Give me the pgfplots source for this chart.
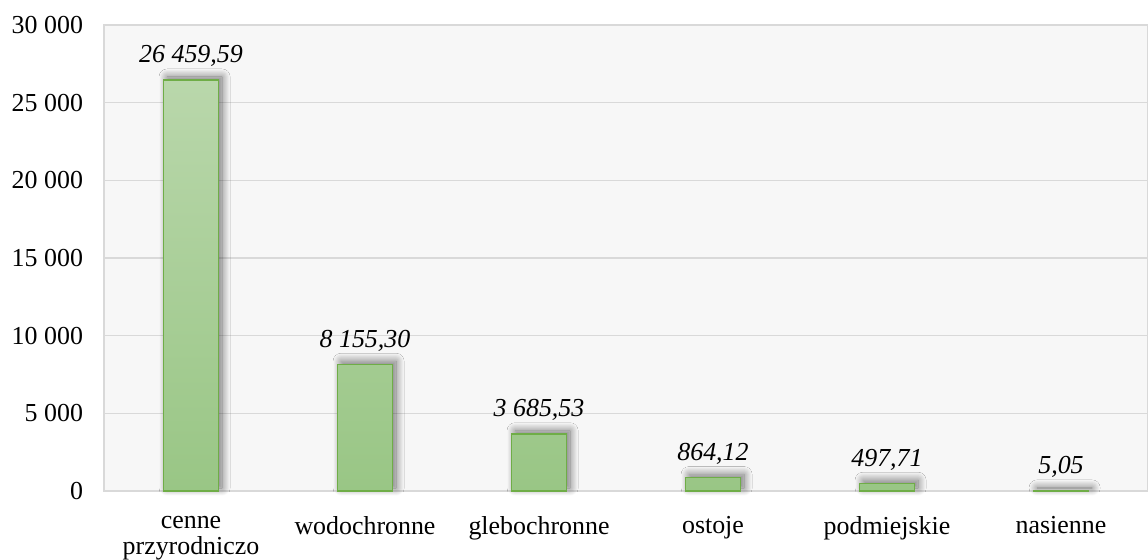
\documentclass[border=0pt]{standalone}
\usepackage{pgfplots}
\pgfplotsset{compat=1.18}
\usepackage{fontspec}
\setmainfont{Liberation Serif}
\usetikzlibrary{shadows.blur}
\definecolor{bartop}{HTML}{B9D7AB}
\definecolor{barbot}{HTML}{99C685}
\definecolor{baredge}{HTML}{6FAD47}
\definecolor{gridc}{HTML}{D9D9D9}
\begin{document}
\fontsize{13}{14}\selectfont
\begin{tikzpicture}
\begin{axis}[
  scale only axis, width=522bp, height=233bp,
  xmin=-0.5, xmax=5.5, ymin=0, ymax=30000,
  scaled y ticks=false,
  axis background/.style={fill=black!3},
  axis line style={draw=gridc, line width=0.6bp},
  ymajorgrids, grid style={draw=gridc, line width=0.8bp},
  ytick={0,5000,10000,15000,20000,25000,30000},
  yticklabels={0,5 000,10 000,15 000,20 000,25 000,30 000},
  xtick={0,1,2,3,4,5},
  xticklabels={cenne\\przyrodniczo,wodochronne,glebochronne,ostoje,podmiejskie,nasienne},
  xticklabel style={align=center, font=\fontsize{13}{13}\selectfont, yshift=-4bp},
  yticklabel style={font=\fontsize{13}{14}\selectfont, xshift=-6bp},
  tick style={draw=none},
  ybar, bar width=27.5bp, bar shift=0pt,
  clip=false,
]
\addplot[fill=barbot, top color=bartop, bottom color=barbot, draw=baredge, line width=0.75bp,
  blur shadow={shadow xshift=1.8bp, shadow yshift=1.5bp, shadow blur radius=4bp,
    shadow blur steps=24, shadow opacity=55}]
  coordinates {(0,26459.59) (1,8155.30) (2,3685.53) (3,864.12) (4,497.71) (5,5.05)};
\addplot[draw=none, fill=none, point meta=explicit symbolic,
  nodes near coords,
  every node near coord/.append style={font=\fontsize{13}{14}\selectfont\itshape, yshift=2bp, text=black}]
  coordinates {(0,26459.59) [26 459,59] (1,8155.30) [8 155,30] (2,3685.53) [3 685,53]
               (3,864.12) [864,12] (4,497.71) [497,71] (5,5.05) [5,05]};
\end{axis}
\pgfresetboundingbox
\path (-52bp,-34.5bp) rectangle (522bp,245.5bp);
\end{tikzpicture}
\end{document}
